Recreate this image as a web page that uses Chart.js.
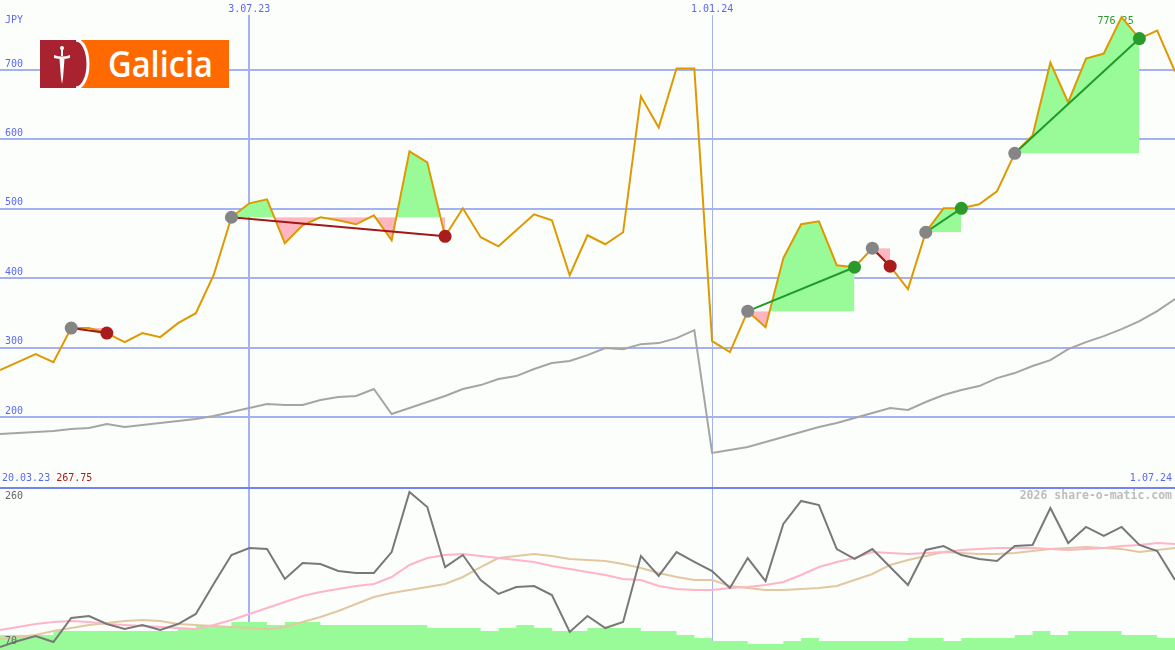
<!DOCTYPE html>
<html lang="es">
<head>
<meta charset="UTF-8">
<title>Galicia - JPY</title>
<script src="https://cdn.jsdelivr.net/npm/chart.js"></script>
<style>
    body { margin: 0; background: #fcfefc; }
    #wrap { position: relative; width: 1175px; height: 650px; overflow: hidden; }
    #top, #bottom { position: absolute; left: 0; display: block; }
    #top { top: 0; }
    #bottom { top: 487px; }
    #logo { position: absolute; left: 40px; top: 40px; }
</style>
</head>
<body>
<div id="wrap">
    <canvas id="top" width="1175" height="487"></canvas>
    <canvas id="bottom" width="1175" height="163"></canvas>
    <svg id="logo" width="189" height="48" viewBox="0 0 189 48">
        <rect x="0" y="0" width="189" height="48" fill="#ff6a00"/>
        <path d="M0 0 H36 A12 24 0 0 1 36 48 H0 Z" fill="#a8232f"/>
        <path d="M36 0 A12 24 0 0 1 36 48" fill="none" stroke="#fff" stroke-width="3"/>
        <circle cx="22" cy="8" r="2" fill="#fff"/>
        <rect x="21" y="9" width="2" height="7" fill="#fff"/>
        <path d="M14 15 Q22 18 30 15 L30 18 Q22 20 14 18 Z" fill="#fff"/>
        <path d="M19.5 19 L24.5 19 L23 38 L22 44 L21 38 Z" fill="#fff"/>
        <text x="68" y="37" font-family="Open Sans" font-weight="600" font-size="36" fill="#fff" textLength="105" lengthAdjust="spacingAndGlyphs">Galicia</text>
    </svg>
</div>

<script>
    // date labels and where they sit (week index)
    const dateLabels = ['20.03.23', '3.07.23', '1.01.24', '1.07.24'];
    const dateIdx = [0, 14, 40, 66];
    const yTicks = [200, 300, 400, 500, 600, 700];

    // weekly close, JPY
    const price = [267.75, 279.1, 290.6, 279.1, 328.1, 328.1, 320.9, 307.9, 320.9, 315.1,
        335.3, 349.6, 404.3, 487.8, 507.9, 513.7, 450.4, 476.3, 487.8, 483.5,
        477.7, 490.6, 454.7, 582.7, 566.9, 460.4, 500.7, 459.0, 446.0, 469.1,
        492.1, 483.5, 404.3, 461.9, 448.9, 466.2, 661.9, 617.3, 702.2, 702.2,
        309.4, 293.5, 352.5, 329.5, 428.8, 477.7, 482.0, 418.7, 415.8, 443.2,
        417.3, 384.2, 466.2, 500.7, 500.7, 506.5, 525.2, 579.9, 605.8, 710.8,
        653.2, 716.5, 723.7, 776.25, 745.3, 756.8, 697.8];

    // comparison line (grey)
    const compare = [175.5, 177.0, 178.4, 179.9, 182.7, 184.2, 189.9, 185.6, 188.5, 191.4,
        194.2, 197.1, 201.4, 207.2, 212.9, 218.7, 217.3, 217.3, 224.5, 228.8,
        230.2, 240.3, 204.3, 212.9, 221.6, 230.2, 240.3, 246.0, 254.7, 259.0,
        269.1, 277.7, 280.6, 289.2, 299.3, 297.8, 305.0, 306.5, 313.7, 325.2,
        148.2, 152.5, 156.8, 164.0, 171.2, 178.4, 185.6, 191.4, 198.6, 205.8,
        212.9, 210.1, 221.6, 231.7, 238.8, 244.6, 256.1, 263.3, 273.4, 282.0,
        297.8, 307.9, 316.5, 326.6, 338.1, 352.5, 369.8];

    // lower panel
    const osc = [73.5, 80.5, 86.3, 79.3, 107.3, 109.6, 100.3, 94.5, 99.1, 93.3,
        100.3, 112.0, 146.9, 180.7, 188.9, 187.7, 152.8, 171.4, 170.2, 162.1,
        159.8, 159.8, 184.2, 254.2, 236.7, 166.7, 180.7, 151.6, 135.3, 143.4,
        144.6, 134.1, 91.0, 109.6, 95.6, 102.6, 179.6, 156.3, 184.2, 172.6,
        162.1, 142.3, 177.2, 150.4, 216.9, 243.7, 239.0, 187.7, 176.1, 187.7,
        166.7, 145.8, 186.6, 191.2, 180.7, 176.1, 173.7, 191.2, 192.4, 235.5,
        194.7, 213.4, 202.9, 213.4, 192.4, 185.4, 151.6];
    const oscFast = [93.3, 96.8, 100.3, 102.6, 103.8, 102.6, 100.3, 99.1, 98.0, 96.8,
        95.6, 94.5, 99.1, 105.0, 112.0, 119.0, 126.0, 133.0, 137.6, 141.1,
        144.6, 146.9, 155.1, 169.1, 177.2, 180.7, 181.9, 179.6, 177.2, 174.9,
        172.6, 167.9, 164.4, 160.9, 157.4, 152.8, 151.6, 144.6, 141.1, 140.0,
        140.0, 142.3, 143.4, 145.8, 149.3, 157.4, 166.7, 172.6, 177.2, 184.2,
        183.0, 181.9, 183.0, 184.2, 186.6, 187.7, 188.9, 188.9, 188.9, 187.7,
        186.6, 187.7, 188.9, 191.2, 192.4, 194.7, 193.6];
    const oscSlow = [82.8, 85.2, 87.5, 92.1, 95.6, 99.1, 101.5, 103.8, 105.0, 103.8,
        100.3, 99.1, 98.0, 96.8, 95.6, 94.5, 96.8, 102.6, 108.5, 115.5,
        123.6, 131.8, 136.4, 139.9, 143.4, 146.9, 155.1, 166.7, 177.2, 179.6,
        181.9, 179.6, 176.1, 174.9, 173.7, 170.2, 165.6, 159.8, 155.1, 151.6,
        151.6, 144.6, 142.3, 140.0, 140.0, 141.1, 142.3, 144.6, 151.6, 158.6,
        169.1, 174.9, 179.6, 184.2, 183.0, 181.9, 181.9, 183.0, 185.4, 187.7,
        188.9, 190.1, 188.9, 187.7, 184.2, 186.6, 188.9];
    const volume = [87.5, 87.5, 87.5, 92.1, 92.1, 92.1, 92.1, 92.1, 92.1, 92.1,
        94.5, 98, 98, 102.6, 102.6, 99.1, 102.6, 102.6, 99.1, 99.1,
        99.1, 99.1, 99.1, 99.1, 95.6, 95.6, 95.6, 92.1, 95.6, 99.1,
        95.6, 92.1, 92.1, 95.6, 95.6, 95.6, 92.1, 92.1, 87.5, 84,
        80.5, 80.5, 77, 77, 80.5, 84, 80.5, 80.5, 80.5, 80.5,
        80.5, 84, 84, 80.5, 84, 84, 84, 87.5, 92.1, 87.5,
        92.1, 92.1, 92.1, 87.5, 87.5, 84, 84];

    // trades: entry / exit week index
    const tradeIn = [4, 13, 42, 49, 52, 57];
    const tradeOut = [6, 25, 48, 50, 54, 64];

    const bg = '#fcfefc';
    const blue = '#5a69ee';
    const gridBlue = '#a4b2f2';
    const monoFont = '"DejaVu Sans Mono", monospace';

    const pts = arr => arr.map((v, i) => ({ x: i, y: v }));
    const vLineWidth = c => c.tick && c.tick.value === 14 ? 2 : 1;

    // trade line + entry/exit dots
    const tradeLines = tradeIn.map((a, k) => {
        const b = tradeOut[k];
        const win = price[b] > price[a];
        return {
            data: [{ x: a, y: price[a] }, { x: b, y: price[b] }],
            borderColor: win ? '#22992a' : '#a01818',
            borderWidth: 2,
            pointRadius: 6.5,
            pointHoverRadius: 6.5,
            pointBorderWidth: 0,
            pointBackgroundColor: ['#858585', win ? '#2a9a2a' : '#a81c1c'],
            fill: false
        };
    });

    // green / pink area between price and entry level
    const tradeFills = tradeIn.map((a, k) => ({
        data: pts(price).slice(a, tradeOut[k] + 1),
        borderWidth: 0,
        pointRadius: 0,
        fill: { target: { value: price[a] }, above: '#98fb98', below: '#ffb6c1' }
    }));

    const topText = {
        id: 'topText',
        beforeDatasetsDraw(chart) {
            const ctx = chart.ctx, x = chart.scales.x, y = chart.scales.y;
            ctx.save();
            ctx.font = '10px ' + monoFont;
            ctx.textBaseline = 'middle';
            ctx.fillStyle = bg;
            [1, 2].forEach(k => ctx.fillRect(x.getPixelForValue(dateIdx[k]) - 2, 0, 4, 15));
            ctx.fillStyle = blue;
            ctx.textAlign = 'center';
            [1, 2].forEach(k => ctx.fillText(dateLabels[k], x.getPixelForValue(dateIdx[k]), 9));
            ctx.textAlign = 'left';
            ctx.fillText('JPY', 5, 20);
            yTicks.forEach(v => ctx.fillText(String(v), 5, y.getPixelForValue(v) - 6));
            ctx.fillText(dateLabels[0], 2, 478);
            const w = ctx.measureText(dateLabels[0] + ' ').width;
            ctx.fillStyle = '#b01818';
            ctx.fillText(price[0].toFixed(2), 2 + w, 478);
            ctx.fillStyle = blue;
            ctx.textAlign = 'right';
            ctx.fillText(dateLabels[3], 1172, 478);
            // highest close
            const iMax = price.indexOf(Math.max(...price));
            ctx.fillStyle = '#2a9a2a';
            ctx.textAlign = 'center';
            ctx.fillText(price[iMax].toFixed(2), x.getPixelForValue(iMax) - 6, y.getPixelForValue(price[iMax]) + 4);
            ctx.restore();
        }
    };

    new Chart(document.getElementById('top'), {
        type: 'line',
        data: {
            datasets: [
                ...tradeLines,
                { data: pts(price), borderColor: '#dd9a00', borderWidth: 2, pointRadius: 0, fill: false },
                { data: pts(compare), borderColor: '#a5a5a5', borderWidth: 2, pointRadius: 0, fill: false },
                ...tradeFills
            ]
        },
        options: {
            responsive: false,
            animation: false,
            layout: { padding: 0, autoPadding: false },
            plugins: { legend: { display: false }, tooltip: { enabled: false } },
            elements: { line: { tension: 0 } },
            scales: {
                x: {
                    type: 'linear', min: 0, max: 66,
                    ticks: { display: false },
                    border: { display: false },
                    grid: { drawTicks: false, color: gridBlue, lineWidth: vLineWidth },
                    afterBuildTicks: s => { s.ticks = dateIdx.slice(1, 3).map(v => ({ value: v })); }
                },
                y: {
                    min: 99.14, max: 800.86,
                    ticks: { display: false },
                    border: { display: false },
                    grid: { drawTicks: false, color: gridBlue, lineWidth: 2 },
                    afterBuildTicks: s => { s.ticks = yTicks.map(v => ({ value: v })); }
                }
            }
        },
        plugins: [topText]
    });

    const bottomText = {
        id: 'bottomText',
        afterDatasetsDraw(chart) {
            const ctx = chart.ctx, y = chart.scales.y;
            ctx.save();
            ctx.fillStyle = '#7383f0';
            ctx.fillRect(0, 0, chart.width, 2);
            ctx.textBaseline = 'middle';
            ctx.font = '10px ' + monoFont;
            ctx.fillStyle = '#666';
            ctx.textAlign = 'left';
            ctx.fillText('260', 5, y.getPixelForValue(260) + 9);
            ctx.fillText('70', 5, y.getPixelForValue(70) - 9);
            ctx.font = 'bold 11.5px ' + monoFont;
            ctx.fillStyle = '#bdbdbd';
            ctx.textAlign = 'right';
            ctx.fillText('2026 share-o-matic.com', 1172, 9);
            ctx.restore();
        }
    };

    new Chart(document.getElementById('bottom'), {
        type: 'line',
        data: {
            datasets: [
                { data: pts(osc), borderColor: '#787878', borderWidth: 2, pointRadius: 0, fill: false },
                { data: pts(oscFast), borderColor: '#ffb4c8', borderWidth: 2, pointRadius: 0, fill: false },
                { data: pts(oscSlow), borderColor: '#e2c8a0', borderWidth: 2, pointRadius: 0, fill: false },
                { data: pts(volume), borderWidth: 0, pointRadius: 0, stepped: true, fill: 'start', backgroundColor: '#98fb98' }
            ]
        },
        options: {
            responsive: false,
            animation: false,
            layout: { padding: 0, autoPadding: false },
            plugins: { legend: { display: false }, tooltip: { enabled: false } },
            scales: {
                x: {
                    type: 'linear', min: 0, max: 66,
                    ticks: { display: false },
                    border: { display: false },
                    grid: { drawTicks: false, color: gridBlue, lineWidth: vLineWidth },
                    afterBuildTicks: s => { s.ticks = dateIdx.slice(1, 3).map(v => ({ value: v })); }
                },
                y: { display: false, min: 70, max: 260 }
            }
        },
        plugins: [bottomText]
    });
</script>
</body>
</html>
